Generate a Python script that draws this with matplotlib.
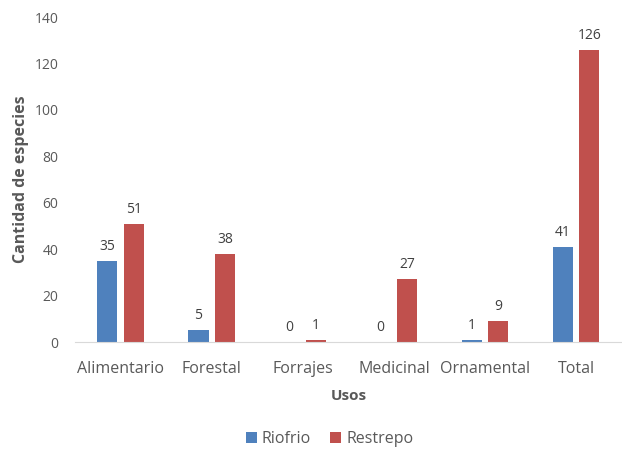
import numpy as np
import matplotlib.pyplot as plt

usos = ["Alimentario", "Forestal", "Forrajes", "Medicinal", "Ornamental", "Total"]
riofrio = [35, 5, 0, 0, 1, 41]
restrepo = [51, 38, 1, 27, 9, 126]

plt.rcParams['font.family'] = ['Open Sans', 'DejaVu Sans']
gray = "#595959"
blue = "#4F81BD"
red = "#C0504D"

fig = plt.figure(figsize=(6.22, 4.49), dpi=100)
ax = fig.add_axes([0.1206, 0.2383, 0.879, 0.7238])

x = np.arange(len(usos))
w = 0.22
b1 = ax.bar(x - 0.145, riofrio, w, color=blue, label="Riofrio")
b2 = ax.bar(x + 0.145, restrepo, w, color=red, label="Restrepo")

for bars, vals in ((b1, riofrio), (b2, restrepo)):
    for rect, v in zip(bars, vals):
        ax.annotate(str(v), (rect.get_x() + rect.get_width() / 2, v),
                    xytext=(0, 5), textcoords="offset points",
                    ha="center", va="bottom", fontsize=10, color="#404040")

ax.set_xlim(-0.5, len(usos) - 0.5)
ax.set_ylim(0, 140)
ax.set_yticks(range(0, 141, 20))
ax.set_xticks(x)
ax.set_xticklabels(usos)
ax.tick_params(axis="x", length=0, labelsize=11.5, colors=gray, pad=14)
ax.tick_params(axis="y", length=0, labelsize=10, colors=gray, pad=12)
for s in ("top", "right", "left"):
    ax.spines[s].set_visible(False)
ax.spines["bottom"].set_color("#D9D9D9")

ax.set_xlabel("Usos", fontsize=11, fontweight="bold", color=gray, labelpad=8)
ax.set_ylabel("Cantidad de especies", fontsize=11.5, fontweight="bold", color=gray, labelpad=4)

fig.legend(handles=[b1, b2], loc="center", bbox_to_anchor=(0.53, 0.022),
           ncol=2, frameon=False, fontsize=11.5, labelcolor=gray,
           handlelength=0.7, handleheight=0.7, handletextpad=0.3, columnspacing=1.2)

fig.savefig("out.png", dpi=100)
